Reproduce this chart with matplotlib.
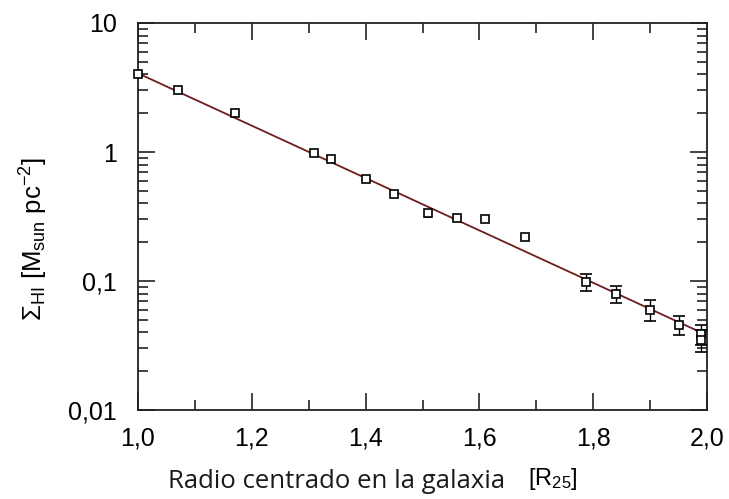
import numpy as np
import matplotlib
matplotlib.use('Agg')
import matplotlib.pyplot as plt
from matplotlib.ticker import FixedLocator, FuncFormatter, LogLocator, NullFormatter

plt.rcParams['font.family'] = ['Liberation Sans', 'DejaVu Sans']
plt.rcParams['mathtext.fontset'] = 'custom'
plt.rcParams['mathtext.rm'] = 'Liberation Sans'
plt.rcParams['mathtext.it'] = 'Liberation Sans'

# radial profile of HI surface density
radius = [1.00, 1.07, 1.17, 1.31, 1.34, 1.40, 1.45, 1.51, 1.56, 1.61, 1.68,
          1.787, 1.84, 1.90, 1.95, 1.99, 1.99]
sigma_hi = [4.0, 3.0, 2.0, 0.98, 0.88, 0.62, 0.47, 0.335, 0.31, 0.30, 0.22,
            0.099, 0.080, 0.060, 0.046, 0.039, 0.035]
sigma_err = [0.08, 0.1, 0.06, 0.02, 0.02, 0.015, 0.02, 0.02, 0.01, 0.005, 0.012,
             0.015, 0.012, 0.011, 0.008, 0.007, 0.007]

# exponential fit: log10(sigma) = fit_a + fit_b * (R - 1)
fit_a = 0.61
fit_b = -2.03

fig = plt.figure(figsize=(7.29, 4.99), dpi=100)
ax = fig.add_axes([138 / 729, 1 - 410 / 499, 569 / 729, 387 / 499])

r_fit = np.array([1.0, 2.0])
ax.plot(r_fit, 10 ** (fit_a + fit_b * (r_fit - 1)), color='#6e1d1d', lw=1.3, zorder=2)

# inner points: error bars hidden within the marker; outer points: wide caps
n_in = 11
style = dict(fmt='s', mfc='white', mec='black', mew=1.2, ms=6, ecolor='black',
             elinewidth=1.0, capthick=1.0, zorder=3, clip_on=False)
ax.errorbar(radius[:n_in], sigma_hi[:n_in], yerr=sigma_err[:n_in], capsize=2, **style)
ax.errorbar(radius[n_in:], sigma_hi[n_in:], yerr=sigma_err[n_in:], capsize=4, **style)

ax.set_yscale('log')
ax.set_xlim(1.0, 2.0)
ax.set_ylim(0.01, 10)

ax.xaxis.set_major_locator(FixedLocator([1.0, 1.2, 1.4, 1.6, 1.8, 2.0]))
ax.xaxis.set_minor_locator(FixedLocator([1.1, 1.3, 1.5, 1.7, 1.9]))
ax.xaxis.set_major_formatter(FuncFormatter(lambda v, p: f'{v:.1f}'.replace('.', ',')))

ax.yaxis.set_major_locator(FixedLocator([0.01, 0.1, 1, 10]))
ax.yaxis.set_minor_locator(LogLocator(base=10, subs=np.arange(2, 10)))
ax.yaxis.set_minor_formatter(NullFormatter())
ax.yaxis.set_major_formatter(FuncFormatter(lambda v, p: {0.01: '0,01', 0.1: '0,1', 1: '1', 10: '10'}[round(v, 2)]))

ax.tick_params(which='both', direction='in', top=True, right=True, labelsize=18, width=1.2, color='#222222')
ax.tick_params(which='major', length=12)
ax.tick_params(which='minor', length=7)
ax.tick_params(axis='y', which='major', pad=15)
ax.tick_params(axis='x', which='major', pad=12)
for s in ax.spines.values():
    s.set_linewidth(1.3)
    s.set_color('#222222')

fig.text(34 / 729, 1 - 239 / 499, r'$\Sigma_{\mathrm{HI}}$ [M$_{\mathrm{sun}}$ pc$^{-2}$]',
         fontsize=18.5, rotation=90, ha='center', va='center')
fig.text(505 / 729, 1 - 481 / 499, 'Radio centrado en la galaxia', family=['Open Sans', 'DejaVu Sans'],
         fontsize=18.5, ha='right', va='center', color='#1a1a1a')
fig.text(528 / 729, 1 - 479 / 499, r'[R$_{25}$]', fontsize=17, ha='left', va='center')

fig.savefig('out.png', dpi=100)
